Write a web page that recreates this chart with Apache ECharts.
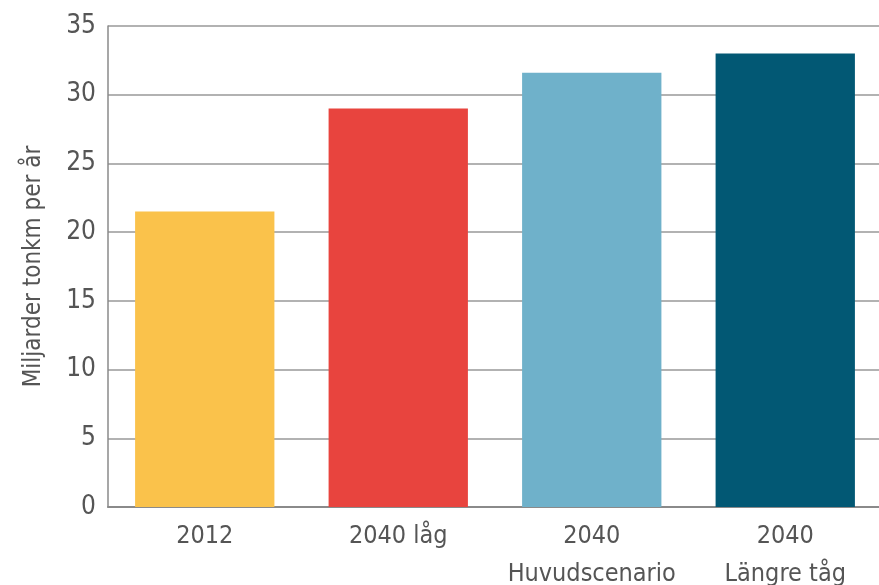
<!DOCTYPE html>
<html><head><meta charset="utf-8">
<script src="https://cdn.jsdelivr.net/npm/echarts@6/dist/echarts.min.js"></script>
<style>html,body{margin:0;padding:0;background:#fff}#c{width:879px;height:585px}</style>
</head><body><div id="c"></div>
<script>
const categories = ['2012', '2040 låg', '2040\nHuvudscenario', '2040\nLängre tåg'];
const values = [21.5, 29.0, 31.6, 33.0];
const barColors = ['#FAC24B', '#E8443E', '#6FB1CA', '#025874'];
const yTicks = { min: 0, max: 35, interval: 5 };
const yName = 'Miljarder tonkm per år';

const chart = echarts.init(document.getElementById('c'), null, { renderer: 'canvas' });
const font = '"DejaVu Sans Condensed", "Liberation Sans Narrow", sans-serif';
chart.setOption({
  animation: false,
  grid: { left: 108, top: 26, width: 774, bottom: 78, containLabel: false, outerBoundsMode: 'none' },
  xAxis: {
    type: 'category', data: categories,
    axisLine: { show: true, lineStyle: { color: '#8a8a8a', width: 2 } },
    axisTick: { show: false },
    axisLabel: { color: '#555', fontFamily: font, fontSize: 25, lineHeight: 38, margin: 10, interval: 0 }
  },
  yAxis: {
    type: 'value', min: yTicks.min, max: yTicks.max, interval: yTicks.interval,
    name: yName, nameLocation: 'middle', nameGap: 62, nameRotate: 90,
    nameTextStyle: { color: '#555', fontFamily: font, fontSize: 24 },
    axisLine: { show: true, lineStyle: { color: '#8a8a8a', width: 1.5 } },
    axisTick: { show: false },
    axisLabel: { color: '#555', fontFamily: font, fontSize: 26, margin: 12 },
    splitLine: { show: true, lineStyle: { color: '#999', width: 1.5 } }
  },
  series: [{
    type: 'bar', barCategoryGap: '28%',
    data: values.map((v, i) => ({ value: v, itemStyle: { color: barColors[i] } }))
  }]
});
</script></body></html>
